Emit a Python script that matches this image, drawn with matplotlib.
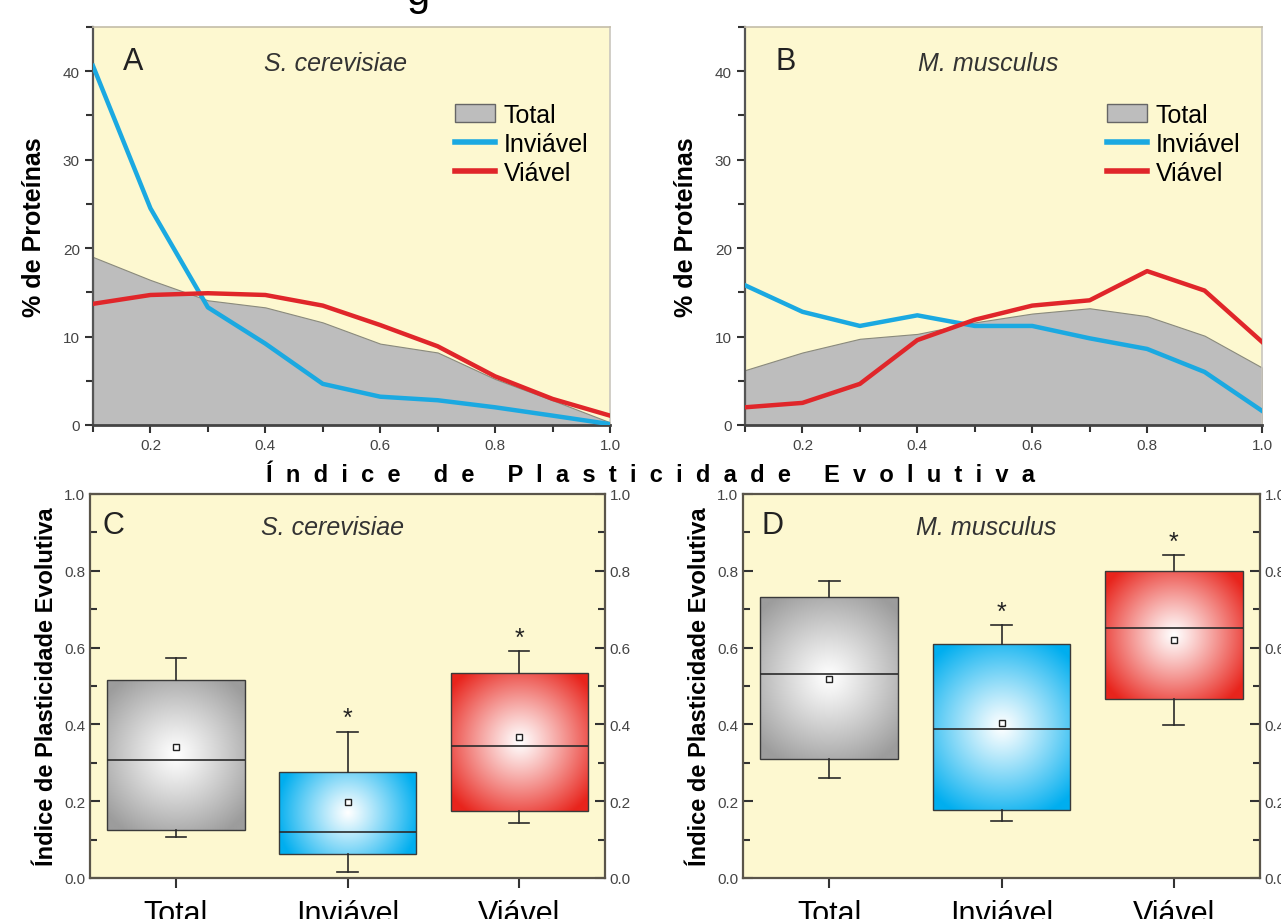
import numpy as np
import matplotlib
matplotlib.use("Agg")
import matplotlib.pyplot as plt
from matplotlib.lines import Line2D
from matplotlib.patches import Patch
from matplotlib.colors import to_rgb

# ---------------- data ----------------
plast_index = [0.1, 0.2, 0.3, 0.4, 0.5, 0.6, 0.7, 0.8, 0.9, 1.0]

sc_total = [19.0, 16.4, 14.1, 13.3, 11.6, 9.2, 8.2, 5.2, 2.8, 0.3]
sc_inviavel = [40.6, 24.5, 13.3, 9.2, 4.65, 3.2, 2.8, 2.0, 1.06, 0.1]
sc_viavel = [13.7, 14.7, 14.9, 14.7, 13.5, 11.3, 8.9, 5.5, 2.95, 1.06]

mm_total = [6.2, 8.2, 9.75, 10.3, 11.6, 12.6, 13.2, 12.3, 10.1, 6.5]
mm_inviavel = [15.8, 12.8, 11.2, 12.4, 11.2, 11.2, 9.8, 8.6, 6.0, 1.6]
mm_viavel = [2.0, 2.5, 4.65, 9.6, 11.9, 13.5, 14.1, 17.4, 15.2, 9.4]

categories = ["Total", "Inviável", "Viável"]
significant = [False, True, True]

sc_whislo = [0.107, 0.016, 0.142]
sc_q1 = [0.124, 0.063, 0.174]
sc_med = [0.306, 0.120, 0.343]
sc_q3 = [0.515, 0.277, 0.535]
sc_whishi = [0.574, 0.381, 0.591]
sc_mean = [0.341, 0.198, 0.367]

mm_whislo = [0.261, 0.148, 0.398]
mm_q1 = [0.311, 0.177, 0.467]
mm_med = [0.532, 0.387, 0.650]
mm_q3 = [0.733, 0.610, 0.800]
mm_whishi = [0.774, 0.659, 0.841]
mm_mean = [0.517, 0.403, 0.619]

# ---------------- style ----------------
BG = "#fdf8d0"
GRAY_FILL = "#bdbdbd"
BLUE = "#1ba9e1"
RED = "#e0262a"
BOX_COLORS = ["#9c9c9c", "#00aeef", "#e8241c"]
TICK_COLOR = "#444444"
NARROW = ["Liberation Sans Narrow", "Liberation Sans", "DejaVu Sans"]
SANS = ["Liberation Sans", "DejaVu Sans"]

plt.rcParams["font.family"] = SANS

W, H = 1281, 920
fig = plt.figure(figsize=(W / 100, H / 100), dpi=100)


def fbox(l, t, r, b):
    return [l / W, 1 - b / H, (r - l) / W, (b - t) / H]


axA = fig.add_axes(fbox(93, 28, 610, 426))
axB = fig.add_axes(fbox(745, 28, 1262, 426))
axC = fig.add_axes(fbox(90, 495, 605, 879))
axD = fig.add_axes(fbox(743, 495, 1260, 879))


def dist_panel(ax, letter, species, total, inv, via):
    ax.set_facecolor(BG)
    ax.fill_between(plast_index, total, 0, facecolor=GRAY_FILL,
                    edgecolor="#8a8a7c", linewidth=0.8, zorder=2)
    ax.plot(plast_index, inv, color=BLUE, lw=3.2, zorder=3,
            solid_joinstyle="round")
    ax.plot(plast_index, via, color=RED, lw=3.2, zorder=4,
            solid_joinstyle="round")
    ax.set_xlim(0.1, 1.0)
    ax.set_ylim(0, 45)
    ax.set_xticks([0.2, 0.4, 0.6, 0.8, 1.0])
    ax.set_xticks([0.1, 0.3, 0.5, 0.7, 0.9], minor=True)
    ax.set_yticks([0, 10, 20, 30, 40])
    ax.set_yticks([5, 15, 25, 35, 45], minor=True)
    ax.tick_params(which="both", direction="out", colors="#333333",
                   labelcolor=TICK_COLOR, labelsize=10, width=1.5)
    ax.tick_params(which="major", length=6)
    ax.tick_params(which="minor", length=5)
    for lab in ax.get_xticklabels() + ax.get_yticklabels():
        lab.set_family(NARROW)
        lab.set_fontsize(11)
    ax.spines["left"].set_color("#555555")
    ax.spines["left"].set_linewidth(1.6)
    ax.spines["bottom"].set_color("#444444")
    ax.spines["bottom"].set_linewidth(2.0)
    ax.spines["top"].set_color("#c4bda8")
    ax.spines["top"].set_linewidth(1.2)
    ax.spines["right"].set_color("#c9c6be")
    ax.spines["right"].set_linewidth(1.2)
    ax.set_ylabel("% de Proteínas", family=NARROW, fontweight="bold",
                  fontsize=18, color="black", labelpad=12)
    ax.text(0.078, 0.915, letter, transform=ax.transAxes, fontsize=22,
            ha="center", va="center", color="#222222")
    ax.text(0.47, 0.91, species, transform=ax.transAxes, fontsize=18,
            style="italic", ha="center", va="center", color="#333333")
    handles = [Patch(facecolor=GRAY_FILL, edgecolor="#666666", linewidth=1),
               Line2D([], [], color=BLUE, lw=4),
               Line2D([], [], color=RED, lw=4)]
    ax.legend(handles, ["Total", "Inviável", "Viável"], loc="upper left",
              bbox_to_anchor=(0.70, 0.81), frameon=False, fontsize=18,
              handlelength=1.6, handleheight=0.7, handletextpad=0.35,
              labelspacing=0.2, borderpad=0, borderaxespad=0)


dist_panel(axA, "A", "S. cerevisiae", sc_total, sc_inviavel, sc_viavel)
dist_panel(axB, "B", "M. musculus", mm_total, mm_inviavel, mm_viavel)


def gradient_image(ax, x0, x1, y0, y1, color):
    p0 = ax.transData.transform((x0, y0))
    p1 = ax.transData.transform((x1, y1))
    wpx = abs(p1[0] - p0[0])
    hpx = abs(p1[1] - p0[1])
    nx, ny = 120, max(20, int(120 * hpx / max(wpx, 1)))
    u = np.linspace(-wpx / 2, wpx / 2, nx)
    v = np.linspace(-hpx / 2, hpx / 2, ny)
    U, V = np.meshgrid(u, v)
    r = np.sqrt(U ** 2 + V ** 2)
    rmax = np.sqrt((wpx / 2) ** 2 + (hpx / 2) ** 2)
    t = np.clip(r / (0.9 * rmax), 0, 1) ** 1.1
    c = np.array(to_rgb(color))
    img = (1 - t[..., None]) * np.ones(3) + t[..., None] * c
    return img


def box_panel(ax, letter, species, whislo, q1, med, q3, whishi, mean,
              letter_x):
    ax.set_facecolor(BG)
    ax.set_xlim(0.5, 3.5)
    ax.set_ylim(0, 1.0)
    stats = []
    for i in range(len(categories)):
        stats.append(dict(label=categories[i], whislo=whislo[i], q1=q1[i],
                          med=med[i], q3=q3[i], whishi=whishi[i],
                          mean=mean[i], fliers=[]))
    pos = np.arange(1, len(categories) + 1)
    res = ax.bxp(stats, positions=pos, widths=0.8, capwidths=0.12,
                 patch_artist=True, showmeans=True, showfliers=False,
                 boxprops=dict(facecolor="none", edgecolor="#3a3a3a",
                               linewidth=1.0),
                 medianprops=dict(color="#2a2a2a", linewidth=1.2),
                 whiskerprops=dict(color="#2a2a2a", linewidth=1.2),
                 capprops=dict(color="#2a2a2a", linewidth=1.2),
                 meanprops=dict(marker="s", markersize=5,
                                markerfacecolor="white",
                                markeredgecolor="#222222",
                                markeredgewidth=1.0))
    fig.canvas.draw()
    for i, patch in enumerate(res["boxes"]):
        x0, x1 = pos[i] - 0.4, pos[i] + 0.4
        img = gradient_image(ax, x0, x1, q1[i], q3[i], BOX_COLORS[i])
        im = ax.imshow(img, extent=[x0, x1, q1[i], q3[i]], aspect="auto",
                       origin="lower", zorder=1.5, interpolation="bilinear")
        im.set_clip_path(patch)
        patch.set_zorder(2)
        if significant[i]:
            ax.text(pos[i], whishi[i] + 0.004, "*", ha="center",
                    va="bottom", fontsize=18, color="#222222")
    ax.set_xlim(0.5, 3.5)
    ax.set_ylim(0, 1.0)
    ax.set_xticks(pos)
    ax.set_xticklabels(categories, fontsize=22, color="black")
    ax.set_yticks([0.0, 0.2, 0.4, 0.6, 0.8, 1.0])
    ax.set_yticks([0.1, 0.3, 0.5, 0.7, 0.9], minor=True)
    ax.tick_params(axis="y", which="both", direction="in", left=True,
                   right=True, labelleft=True, labelright=True,
                   colors="#333333", labelcolor=TICK_COLOR, width=1.5)
    ax.tick_params(axis="y", which="major", length=7, labelsize=11)
    ax.tick_params(axis="y", which="minor", length=5)
    ax.tick_params(axis="x", direction="out", length=7, width=1.5,
                   colors="#333333", labelcolor="black", pad=8)
    for lab in ax.get_yticklabels():
        lab.set_family(NARROW)
    for sp in ax.spines.values():
        sp.set_color("#5a554a")
        sp.set_linewidth(1.6)
    ax.set_ylabel("Índice de Plasticidade Evolutiva", family=NARROW,
                  fontweight="bold", fontsize=17, color="black", labelpad=4)
    ax.text(letter_x, 0.92, letter, transform=ax.transAxes, fontsize=22,
            ha="center", va="center", color="#222222")
    ax.text(0.47, 0.915, species, transform=ax.transAxes, fontsize=18,
            style="italic", ha="center", va="center", color="#333333")


box_panel(axC, "C", "S. cerevisiae", sc_whislo, sc_q1, sc_med, sc_q3,
          sc_whishi, sc_mean, 0.045)
box_panel(axD, "D", "M. musculus", mm_whislo, mm_q1, mm_med, mm_q3,
          mm_whishi, mm_mean, 0.057)

fig.text(650 / W, 1 - 476 / H,
         "Í  n  d  i  c  e     d  e     P  l  a  s  t  i  c  i  d  a  d  e     E  v  o  l  u  t  i  v  a",
         ha="center", va="center", fontsize=17, fontweight="bold",
         color="black")

# cropped heading fragment at the very top
fig.text(418 / W, 1 - 5 / H, "g", ha="center", va="baseline", fontsize=30,
         color="black")

fig.savefig("out.png", dpi=100)
